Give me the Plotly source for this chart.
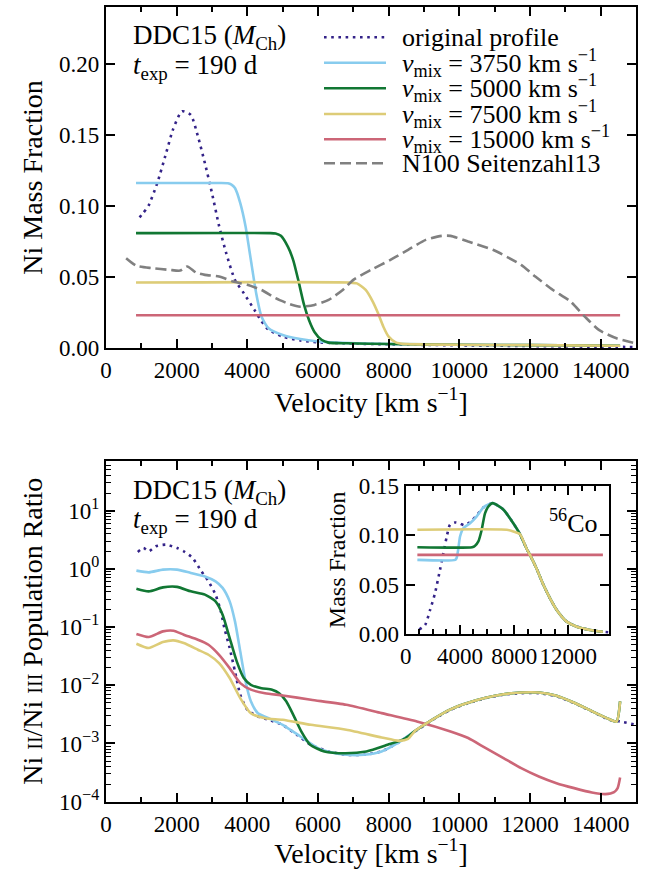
import plotly.graph_objects as go

FONT = "Liberation Serif"

# ---------------- Top panel: Ni mass fraction ----------------
v_orig_top = [950, 1050, 1200, 1450, 1700, 1900, 2150, 2400, 2600, 2800, 3000, 3200, 3400, 3650,
              3900, 4200, 4400, 4600, 5000, 5500, 6000, 7000, 8000, 9000, 10000, 11000, 12000,
              13000, 14000, 15000]
ni_orig_top = [0.092, 0.095, 0.100, 0.116, 0.137, 0.154, 0.1665, 0.164, 0.149, 0.130, 0.109, 0.086,
               0.067, 0.048, 0.0387, 0.027, 0.019, 0.013, 0.0082, 0.0055, 0.0042, 0.0033, 0.0028,
               0.0024, 0.0021, 0.0018, 0.0016, 0.0013, 0.0011, 0.0009]

v_3750_top = [850, 3000, 3450, 3550, 3650, 3800, 3950, 4100, 4250, 4400, 4600, 5000, 5500, 6000,
              6500, 8000, 10000, 12000, 14550]
ni_3750_top = [0.1161, 0.1161, 0.1160, 0.1150, 0.1126, 0.102, 0.0856, 0.062, 0.0387, 0.0223, 0.0141,
               0.0094, 0.0065, 0.0048, 0.0040, 0.0030, 0.0025, 0.0022, 0.0018]

v_5000_top = [850, 4650, 4800, 4950, 5150, 5300, 5450, 5600, 5750, 5900, 6100, 6300, 6800, 8000,
              10000, 12000, 14550]
ni_5000_top = [0.0809, 0.0809, 0.0806, 0.0790, 0.0712, 0.0618, 0.047, 0.031, 0.0195, 0.0115, 0.006,
               0.004, 0.0035, 0.0030, 0.0025, 0.0022, 0.0018]

v_7500_top = [850, 6900, 7100, 7350, 7550, 7700, 7850, 8000, 8200, 8450, 9000, 10000, 12000, 14550]
ni_7500_top = [0.0462, 0.0462, 0.0456, 0.041, 0.0328, 0.0246, 0.0152, 0.0082, 0.0042, 0.0030,
               0.0027, 0.0025, 0.0022, 0.0018]

v_15000_top = [850, 14550]
ni_15000_top = [0.0232, 0.0232]

v_n100 = [570, 860, 1300, 1800, 2100, 2300, 2550, 2800, 3200, 3600, 4000, 4400, 4800, 5200, 5500,
          5900, 6300, 6700, 7000, 7500, 8050, 8550, 9050, 9500, 9750, 10250, 10950, 11750, 12150,
          12650, 13150, 13550, 13950, 14450, 15000]
ni_n100 = [0.0633, 0.058, 0.0563, 0.0551, 0.0546, 0.0575, 0.0532, 0.0516, 0.0504, 0.0469, 0.0446,
           0.041, 0.0352, 0.0310, 0.0292, 0.0305, 0.034, 0.041, 0.0481, 0.0551, 0.0621, 0.0692,
           0.0762, 0.079, 0.079, 0.075, 0.0692, 0.0586, 0.0504, 0.041, 0.0328, 0.0223, 0.0129,
           0.007, 0.0035]

# ---------------- Bottom panel: Ni II / Ni III ratio ----------------
v_orig_bot = [900, 1060, 1210, 1410, 1710, 2010, 2200, 2450, 2700, 2900, 3100, 3250, 3350, 3500,
              3650, 3800, 4000, 4300, 4600, 5000, 5400, 5800, 6300, 6800, 7300, 7800, 8250, 8750,
              9250, 9750, 10250, 10750, 11250, 11750, 12250, 12750, 13250, 13750, 14250, 14550,
              15000]
r_orig_bot = [1.95, 2.28, 2.0, 2.44, 2.6, 2.28, 2.0, 1.54, 0.905, 0.61, 0.36, 0.186, 0.096, 0.0436,
              0.0173, 0.00687, 0.00379, 0.00291, 0.00255, 0.00209, 0.00141, 0.00095, 0.00073,
              0.00064, 0.00064, 0.00073, 0.00101, 0.00161, 0.00255, 0.00379, 0.00493, 0.00601,
              0.00687, 0.00733, 0.00733, 0.00643, 0.00493, 0.00355, 0.00255, 0.00239, 0.00209]

v_tail_bot = [8750, 9250, 9750, 10250, 10750, 11250, 11750, 12250, 12750, 13250, 13750, 14250,
              14450, 14550]
r_tail_bot = [0.00165, 0.0026, 0.00385, 0.005, 0.0061, 0.0070, 0.0075, 0.0075, 0.0066, 0.0050,
              0.0036, 0.0026, 0.00238, 0.0053]

v_3750_bot = [860, 1210, 1610, 2010, 2400, 2800, 3100, 3300, 3500, 3650, 3800, 3950, 4100, 4300,
              4600, 5000, 5500, 6000, 6300, 6800, 7300, 7800, 8250] + v_tail_bot
r_3750_bot = [0.93, 0.87, 0.97, 0.97, 0.85, 0.74, 0.61, 0.47, 0.276, 0.125, 0.038, 0.0116, 0.0053,
              0.0033, 0.00272, 0.00209, 0.00132, 0.00083, 0.00072, 0.00064, 0.00064, 0.00073,
              0.00101] + r_tail_bot

v_5000_bot = [860, 1210, 1610, 2010, 2400, 2800, 3100, 3300, 3500, 3700, 3900, 4100, 4400, 4700,
              4900, 5100, 5300, 5530, 5780, 6180, 6780, 7370, 7970, 8450] + v_tail_bot
r_5000_bot = [0.456, 0.41, 0.48, 0.49, 0.41, 0.36, 0.276, 0.163, 0.0647, 0.0257, 0.0133, 0.0102,
              0.0089, 0.0084, 0.0073, 0.0053, 0.0031, 0.0016, 0.00095, 0.00073, 0.00068, 0.00073,
              0.00095, 0.0012] + r_tail_bot

v_7500_bot = [860, 1210, 1610, 1910, 2200, 2600, 2900, 3200, 3500, 3800, 4100, 4500, 5000, 5800,
              6800, 7800, 8300, 8550] + v_tail_bot
r_7500_bot = [0.0517, 0.0436, 0.0552, 0.059, 0.053, 0.0408, 0.0334, 0.024, 0.0133, 0.006, 0.0033,
              0.00272, 0.00255, 0.00209, 0.00172, 0.00127, 0.00111, 0.0012] + r_tail_bot

v_15000_bot = [860, 1210, 1610, 1910, 2200, 2600, 2900, 3200, 3500, 3800, 4100, 4500, 5000, 5800,
               6800, 7800, 8800, 9750, 10250, 10750, 11250, 11750, 12250, 12750, 13250, 13750,
               14130, 14380, 14480, 14550]
r_15000_bot = [0.0759, 0.0673, 0.0843, 0.0865, 0.0738, 0.0605, 0.0497, 0.0334, 0.0197, 0.0109,
               0.0084, 0.0073, 0.00668, 0.00564, 0.00462, 0.00332, 0.00239, 0.00161, 0.00124,
               0.00083, 0.00056, 0.000377, 0.000271, 0.000208, 0.000171, 0.000144, 0.000135,
               0.000146, 0.000171, 0.00026]

# ---------------- Inset: 56Co mass fraction ----------------
v_tail_in = [7200, 7940, 8430, 8930, 9170, 9660, 10150, 10650, 11140, 11880, 12620, 13600, 14550]
co_tail_in = [0.126, 0.112, 0.101, 0.086, 0.080, 0.066, 0.050, 0.036, 0.0243, 0.0125, 0.0074,
              0.0041, 0.0022]

v_orig_in = [1000, 1430, 1800, 2160, 2530, 2780, 3030, 3270, 3640, 4010, 4300, 4750, 5240, 5730,
             6100, 6420] + v_tail_in + [15000]
co_orig_in = [0.0047, 0.0091, 0.0243, 0.0412, 0.0649, 0.0818, 0.0986, 0.1105, 0.1128, 0.1118,
              0.110, 0.113, 0.120, 0.128, 0.131, 0.1324] + co_tail_in + [0.0017]

v_3750_in = [860, 3650, 3760, 3880, 4010, 4250, 4750, 5240, 5730, 6100, 6420] + v_tail_in
co_3750_in = [0.075, 0.075, 0.077, 0.086, 0.0986, 0.107, 0.112, 0.119, 0.128, 0.131,
              0.1324] + co_tail_in

v_5000_in = [860, 4900, 5100, 5360, 5600, 5850, 6100, 6420] + v_tail_in
co_5000_in = [0.0878, 0.0878, 0.089, 0.0936, 0.105, 0.122, 0.129, 0.1324] + co_tail_in

v_7500_in = [860, 7450, 7940] + v_tail_in[2:]
co_7500_in = [0.1054, 0.1054, 0.1037] + co_tail_in[2:]

v_15000_in = [860, 14550]
co_15000_in = [0.080, 0.080]

# ---------------- Styling ----------------
C_ORIG = "#332288"
C_3750 = "#88CCEE"
C_5000 = "#117733"
C_7500 = "#DDCC77"
C_15000 = "#CC6677"
C_N100 = "#808080"
LW = 2.6

legend_labels = [
    "original profile",
    "<i>v</i><sub>mix</sub> = 3750 km s<sup>−1</sup>",
    "<i>v</i><sub>mix</sub> = 5000 km s<sup>−1</sup>",
    "<i>v</i><sub>mix</sub> = 7500 km s<sup>−1</sup>",
    "<i>v</i><sub>mix</sub> = 15000 km s<sup>−1</sup>",
    "N100 Seitenzahl13",
]

log_tickvals = [1e-4, 1e-3, 1e-2, 1e-1, 1, 10]
log_ticktext = ["10<sup>−4</sup>", "10<sup>−3</sup>", "10<sup>−2</sup>", "10<sup>−1</sup>",
                "10<sup>0</sup>", "10<sup>1</sup>"]
log_minor = [m * 10.0 ** e for e in range(-4, 2) for m in range(2, 10)]

fig = go.Figure()


def add(x, y, color, dash, xa, ya, name):
    fig.add_trace(go.Scatter(x=x, y=y, mode="lines", name=name, showlegend=False,
                             line=dict(color=color, width=LW, dash=dash, shape="spline",
                                       smoothing=0.6),
                             xaxis=xa, yaxis=ya))


DOT = "2.6px,4.6px"
DASH = "11px,5px"

# top
add(v_orig_top, ni_orig_top, C_ORIG, DOT, "x", "y", legend_labels[0])
add(v_3750_top, ni_3750_top, C_3750, "solid", "x", "y", legend_labels[1])
add(v_5000_top, ni_5000_top, C_5000, "solid", "x", "y", legend_labels[2])
add(v_7500_top, ni_7500_top, C_7500, "solid", "x", "y", legend_labels[3])
add(v_15000_top, ni_15000_top, C_15000, "solid", "x", "y", legend_labels[4])
add(v_n100, ni_n100, C_N100, DASH, "x", "y", legend_labels[5])
# bottom
add(v_orig_bot, r_orig_bot, C_ORIG, DOT, "x2", "y2", legend_labels[0])
add(v_3750_bot, r_3750_bot, C_3750, "solid", "x2", "y2", legend_labels[1])
add(v_5000_bot, r_5000_bot, C_5000, "solid", "x2", "y2", legend_labels[2])
add(v_15000_bot, r_15000_bot, C_15000, "solid", "x2", "y2", legend_labels[4])
add(v_7500_bot, r_7500_bot, C_7500, "solid", "x2", "y2", legend_labels[3])
# inset
add(v_orig_in, co_orig_in, C_ORIG, DOT, "x3", "y3", legend_labels[0])
add(v_3750_in, co_3750_in, C_3750, "solid", "x3", "y3", legend_labels[1])
add(v_5000_in, co_5000_in, C_5000, "solid", "x3", "y3", legend_labels[2])
add(v_15000_in, co_15000_in, C_15000, "solid", "x3", "y3", legend_labels[4])
add(v_7500_in, co_7500_in, C_7500, "solid", "x3", "y3", legend_labels[3])

W, H = 654, 869


def px(x):
    return x / W


def py(y):
    return (H - y) / H


common_ax = dict(showline=True, linewidth=2.4, linecolor="black", mirror="allticks",
                 ticks="inside", tickwidth=1.8, ticklen=9, tickcolor="black",
                 showgrid=False, zeroline=False, automargin=False,
                 tickfont=dict(family=FONT, size=23, color="black"))
minor_x = dict(ticks="inside", dtick=1000, ticklen=5, tickwidth=1.5, tickcolor="black")

xdom = [px(106), px(636)]
fig.update_layout(
    xaxis=dict(common_ax, domain=xdom, anchor="y", range=[0, 15000], dtick=2000, tick0=0,
               tickformat="d", minor=minor_x,
               title=dict(text="Velocity [km s<sup>−1</sup>]", font=dict(family=FONT, size=28),
                          standoff=8)),
    yaxis=dict(common_ax, domain=[py(348.3), py(6.7)], anchor="x", range=[0, 0.24], dtick=0.05,
               tickformat=".2f",
               title=dict(text="Ni Mass Fraction", font=dict(family=FONT, size=28), standoff=8)),
    xaxis2=dict(common_ax, domain=xdom, anchor="y2", range=[0, 15000], dtick=2000, tick0=0,
                tickformat="d", minor=minor_x,
                title=dict(text="Velocity [km s<sup>−1</sup>]", font=dict(family=FONT, size=28),
                           standoff=8)),
    yaxis2=dict(common_ax, domain=[py(801.7), py(460.7)], anchor="x2", type="log",
                range=[-4, 1.857], tickmode="array", tickvals=log_tickvals, ticktext=log_ticktext,
                minor=dict(ticks="inside", tickvals=log_minor, ticklen=5, tickwidth=1.2,
                           tickcolor="black"),
                title=dict(text="Ni <span style='font-size:20px'>II</span>/Ni "
                                "<span style='font-size:20px'>III</span> Population Ratio",
                           font=dict(family=FONT, size=28), standoff=8)),
    xaxis3=dict(common_ax, domain=[px(405.7), px(609)], anchor="y3", range=[0, 15000],
                dtick=4000, tick0=0, tickformat="d", minor=minor_x),
    yaxis3=dict(common_ax, domain=[py(634), py(485.7)], anchor="x3", range=[0, 0.15], dtick=0.05,
                tickformat=".2f",
                title=dict(text="Mass Fraction", font=dict(family=FONT, size=24), standoff=6)),
    width=W, height=H,
    margin=dict(l=0, r=0, t=0, b=0),
    paper_bgcolor="white", plot_bgcolor="white",
    showlegend=False,
    font=dict(family=FONT, size=23, color="black"),
    template="none",
)

ann = []
# panel labels
for y_a, y_b in [(37, 67), (491.7, 521)]:
    ann.append(dict(text="DDC15 (<i>M</i><sub>Ch</sub>)", x=px(131), y=py(y_a), xref="paper",
                    yref="paper", xanchor="left", yanchor="middle", showarrow=False,
                    font=dict(family=FONT, size=27)))
    ann.append(dict(text="<i>t</i><sub>exp</sub> = 190 d", x=px(131), y=py(y_b), xref="paper",
                    yref="paper", xanchor="left", yanchor="middle", showarrow=False,
                    font=dict(family=FONT, size=27)))
ann.append(dict(text="<sup>56</sup>Co", x=px(573), y=py(521.7), xref="paper", yref="paper",
                xanchor="center", yanchor="middle", showarrow=False,
                font=dict(family=FONT, size=26)))

# manual legend for the top panel
rows = [37.3, 62.7, 88.3, 114, 139.3, 163.3]
colors = [C_ORIG, C_3750, C_5000, C_7500, C_15000, C_N100]
dashes = [DOT, "solid", "solid", "solid", "solid", DASH]
shapes = []
for lab, yr, c, d in zip(legend_labels, rows, colors, dashes):
    ann.append(dict(text=lab, x=px(400), y=py(yr), xref="paper", yref="paper", xanchor="left",
                    yanchor="middle", showarrow=False, font=dict(family=FONT, size=26)))
    shapes.append(dict(type="line", xref="paper", yref="paper", x0=px(324), x1=px(386),
                       y0=py(yr), y1=py(yr), line=dict(color=c, width=LW, dash=d)))

fig.update_layout(annotations=ann, shapes=shapes)

fig.write_html("out.html", config={"displayModeBar": False},
               post_script="document.body.style.margin='0px';")
